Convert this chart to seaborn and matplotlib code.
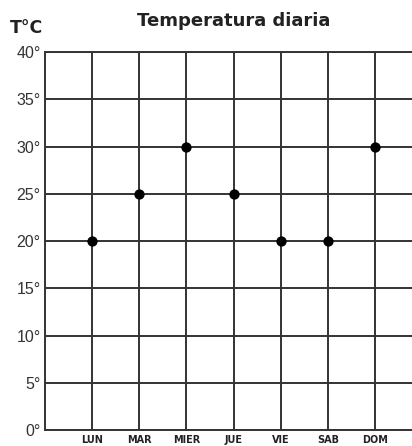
import matplotlib
matplotlib.use("Agg")
import matplotlib.pyplot as plt
import seaborn as sns
import pandas as pd

dias = ["LUN", "MAR", "MIER", "JUE", "VIE", "SAB", "DOM"]
posicion = [1, 2, 3, 4, 5, 6, 7]
temperatura = [20, 25, 30, 25, 20, 20, 30]
ticks_y = [0, 5, 10, 15, 20, 25, 30, 35, 40]
etiquetas_y = [f"{t}°" for t in ticks_y]

data = pd.DataFrame({"pos": posicion, "temp": temperatura, "dia": dias})

sns.set_style("white")
plt.rcParams["font.family"] = ["DejaVu Sans"]

fig = plt.figure(figsize=(4.12, 4.46), dpi=100)
ax = fig.add_axes([0.109, 0.036, 0.891, 0.847])

sns.scatterplot(x="pos", y="temp", data=data, color="black", s=55,
                edgecolor="black", linewidth=0, zorder=5, ax=ax)

ax.set_xlim(0, 7.78)
ax.set_ylim(0, 40)
ax.set_xticks(posicion)
ax.set_xticklabels(dias, fontsize=7, fontweight="bold", color="#222222")
ax.set_yticks(ticks_y)
ax.set_yticklabels(etiquetas_y, fontsize=11.5, color="#333333",
                   family=["Liberation Sans", "DejaVu Sans"])
ax.tick_params(axis="both", length=0, pad=3)
ax.tick_params(axis="x", pad=4)

ax.grid(True, color="#333333", linewidth=1.4)
ax.set_axisbelow(True)
for lado in ["left", "top", "bottom"]:
    ax.spines[lado].set_visible(True)
    ax.spines[lado].set_color("#333333")
    ax.spines[lado].set_linewidth(1.4)
ax.spines["right"].set_visible(False)

ax.set_xlabel("")
ax.set_ylabel("")

fig.text(0.568, 0.953, "Temperatura diaria", ha="center", va="center",
         fontsize=13, fontweight="bold", color="#222222")
fig.text(0.024, 0.937, "T°C", ha="left", va="center",
         fontsize=12.5, fontweight="bold", color="#222222")

fig.savefig("out.png", dpi=100)
